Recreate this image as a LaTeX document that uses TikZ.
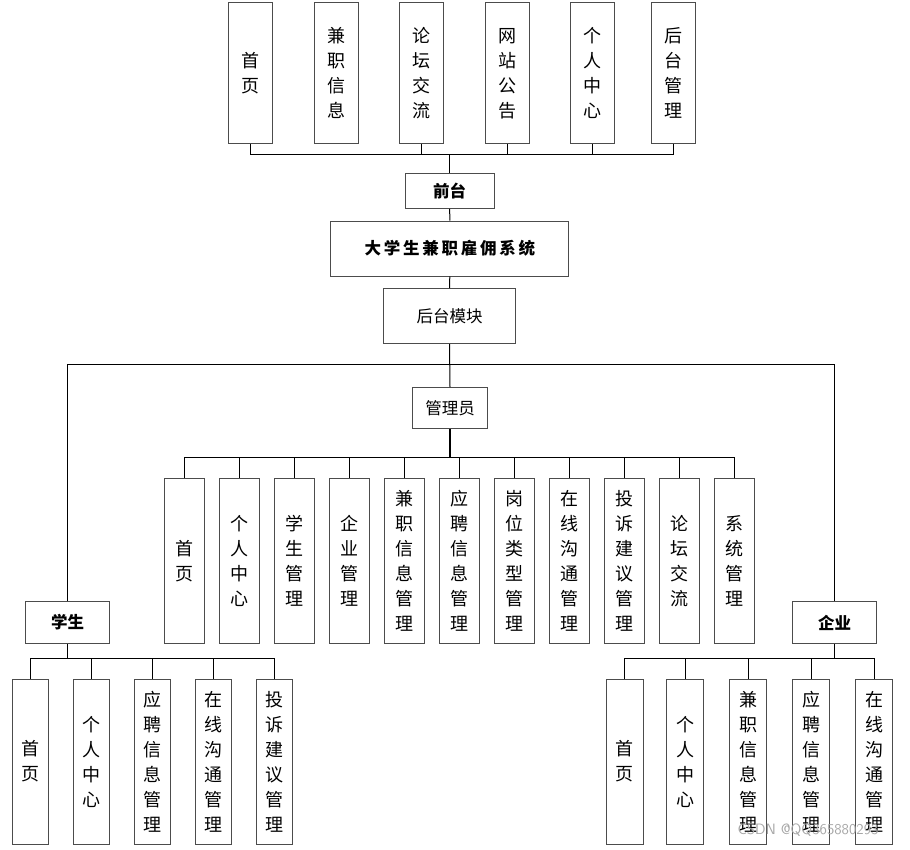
\documentclass[tikz,border=0pt]{standalone}
\usepackage{fontspec}
\setmainfont{Noto Sans CJK SC}
\tikzset{
  leaf/.style={draw=black!70, line width=1pt, align=center, inner sep=0pt,
    font=\fontsize{18}{25}\selectfont},
  head/.style={draw=black!70, line width=1pt, inner sep=0pt,
    font=\fontsize{16.5}{20}\selectfont\bfseries},
  link/.style={line width=1pt, black}
}
\begin{document}
\begin{tikzpicture}[x=1pt,y=-1pt]
  \useasboundingbox (0,0) rectangle (910,849);
  % front end
  \node[leaf, minimum width=44pt, minimum height=141pt] (f1) at (250.8,73.3) {首\\页};
  \node[leaf, minimum width=44pt, minimum height=141pt] (f2) at (336.3,73.3) {兼\\职\\信\\息};
  \node[leaf, minimum width=44pt, minimum height=141pt] (f3) at (421.3,73.3) {论\\坛\\交\\流};
  \node[leaf, minimum width=44pt, minimum height=141pt] (f4) at (507,73.3) {网\\站\\公\\告};
  \node[leaf, minimum width=44pt, minimum height=141pt] (f5) at (592.2,73.3) {个\\人\\中\\心};
  \node[leaf, minimum width=44pt, minimum height=141pt] (f6) at (673.7,73.3) {后\\台\\管\\理};
  \node[head, minimum width=88.7pt, minimum height=35pt] (front) at (449.7,190.8) {前台};
  \node[head, minimum width=238.3pt, minimum height=55pt] (sys) at (449.8,248.5) {大\,学\,生\,兼\,职\,雇\,佣\,系\,统};
  \node[head, font=\fontsize{16.5}{20}\selectfont, minimum width=132.4pt, minimum height=55pt] (back) at (449.5,316.2) {后台模块};
  \node[head, font=\fontsize{16.5}{20}\selectfont, minimum width=75.4pt, minimum height=41.3pt] (admin) at (450,408.3) {管理员};
  \node[head, minimum width=84pt, minimum height=41.6pt] (stu) at (67.7,622.5) {学生};
  \node[head, minimum width=84.4pt, minimum height=41.6pt] (firm) at (834.5,622.5) {企业};
  % administrator
  \node[leaf, minimum width=40pt, minimum height=165pt] (a1) at (184.3,560.8) {首\\页};
  \node[leaf, minimum width=40pt, minimum height=165pt] (a2) at (239.3,560.8) {个\\人\\中\\心};
  \node[leaf, minimum width=40pt, minimum height=165pt] (a3) at (294.3,560.8) {学\\生\\管\\理};
  \node[leaf, minimum width=40pt, minimum height=165pt] (a4) at (349.3,560.8) {企\\业\\管\\理};
  \node[leaf, minimum width=40pt, minimum height=165pt] (a5) at (404.3,560.8) {兼\\职\\信\\息\\管\\理};
  \node[leaf, minimum width=40pt, minimum height=165pt] (a6) at (459.3,560.8) {应\\聘\\信\\息\\管\\理};
  \node[leaf, minimum width=40pt, minimum height=165pt] (a7) at (514.7,560.8) {岗\\位\\类\\型\\管\\理};
  \node[leaf, minimum width=40pt, minimum height=165pt] (a8) at (569.7,560.8) {在\\线\\沟\\通\\管\\理};
  \node[leaf, minimum width=40pt, minimum height=165pt] (a9) at (624.7,560.8) {投\\诉\\建\\议\\管\\理};
  \node[leaf, minimum width=40pt, minimum height=165pt] (a10) at (679.7,560.8) {论\\坛\\交\\流};
  \node[leaf, minimum width=40pt, minimum height=165pt] (a11) at (734.7,560.8) {系\\统\\管\\理};
  % student
  \node[leaf, minimum width=36pt, minimum height=165pt] (s1) at (30.5,761.5) {首\\页};
  \node[leaf, minimum width=36pt, minimum height=165pt] (s2) at (91.7,761.5) {个\\人\\中\\心};
  \node[leaf, minimum width=36pt, minimum height=165pt] (s3) at (152.7,761.5) {应\\聘\\信\\息\\管\\理};
  \node[leaf, minimum width=36pt, minimum height=165pt] (s4) at (213.7,761.5) {在\\线\\沟\\通\\管\\理};
  \node[leaf, minimum width=36pt, minimum height=165pt] (s5) at (274.7,761.5) {投\\诉\\建\\议\\管\\理};
  % company
  \node[leaf, minimum width=37pt, minimum height=165pt] (c1) at (624.7,761.5) {首\\页};
  \node[leaf, minimum width=37pt, minimum height=165pt] (c2) at (685.2,761.5) {个\\人\\中\\心};
  \node[leaf, minimum width=37pt, minimum height=165pt] (c3) at (748.2,761.5) {兼\\职\\信\\息\\管\\理};
  \node[leaf, minimum width=37pt, minimum height=165pt] (c4) at (811.2,761.5) {应\\聘\\信\\息\\管\\理};
  \node[leaf, minimum width=37pt, minimum height=165pt] (c5) at (874.2,761.5) {在\\线\\沟\\通\\管\\理};
  % bars
  \coordinate (fbar) at (449.7,154.3);
  \coordinate (hbar) at (449.5,364.7);
  \coordinate (abar) at (450,457.3);
  \coordinate (sbar) at (67.7,658.7);
  \coordinate (cbar) at (834.5,658.7);
  % connectors
  \draw[link] (f1.south) |- (fbar) -- (front.north);
  \draw[link] (f6.south) |- (fbar);
  \draw[link] (f3.south) -- (f3.south |- fbar);
  \draw[link] (f4.south) -- (f4.south |- fbar);
  \draw[link] (f5.south) -- (f5.south |- fbar);
  \draw[link] (front.south) -- (sys.north);
  \draw[link] (sys.south) -- (back.north);
  \draw[link] (back.south) -- (admin.north);
  \draw[link] (stu.north) |- (hbar) -| (firm.north);
  \draw[link, line width=1.5pt] (admin.south) -- (abar);
  \draw[link] (a1.north) |- (abar) -| (a11.north);
  \draw[link] (a2.north) -- (a2.north |- abar);
  \draw[link] (a3.north) -- (a3.north |- abar);
  \draw[link] (a4.north) -- (a4.north |- abar);
  \draw[link] (a5.north) -- (a5.north |- abar);
  \draw[link] (a6.north) -- (a6.north |- abar);
  \draw[link] (a7.north) -- (a7.north |- abar);
  \draw[link] (a8.north) -- (a8.north |- abar);
  \draw[link] (a9.north) -- (a9.north |- abar);
  \draw[link] (a10.north) -- (a10.north |- abar);
  \draw[link] (stu.south) -- (sbar);
  \draw[link] (s1.north) |- (sbar) -| (s5.north);
  \draw[link] (s2.north) -- (s2.north |- sbar);
  \draw[link] (s3.north) -- (s3.north |- sbar);
  \draw[link] (s4.north) -- (s4.north |- sbar);
  \draw[link] (firm.south) -- (cbar);
  \draw[link] (c1.north) |- (cbar) -| (c5.north);
  \draw[link] (c2.north) -- (c2.north |- cbar);
  \draw[link] (c3.north) -- (c3.north |- cbar);
  \draw[link] (c4.north) -- (c4.north |- cbar);
  % watermark
  \node[text=black!35, font=\fontsize{15}{18}\selectfont\sffamily] (mark) at (808,830) {CSDN @QQ365880293};
\end{tikzpicture}
\end{document}
